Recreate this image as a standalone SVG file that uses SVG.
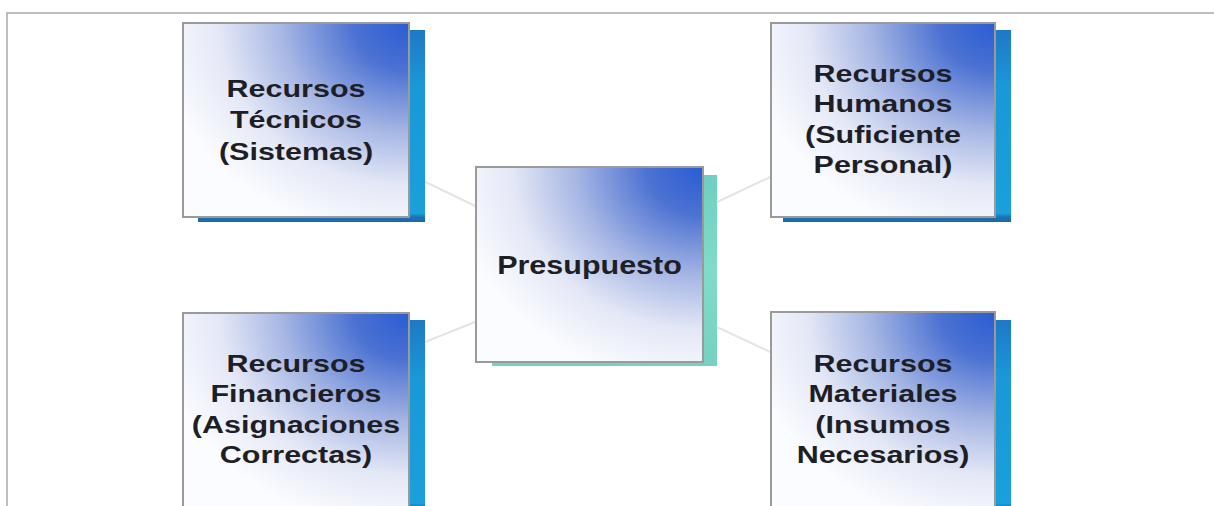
<svg xmlns="http://www.w3.org/2000/svg" width="1214" height="506" viewBox="0 0 1214 506">
  <style>
    .box { stroke: #9a9a9a; stroke-width: 2; }
    .lbl { font-family: "Liberation Sans", Arial, sans-serif; font-weight: bold; font-size: 24px; fill: #1e1e26; text-anchor: middle; }
    .conn { stroke: #e4e4e4; stroke-width: 2; fill: none; }
    .frame { stroke: #bdbdbd; stroke-width: 2; fill: none; }
  </style>
  <defs>
    <radialGradient id="boxFill" cx="1" cy="0" r="1.12" fx="1" fy="0">
      <stop offset="0" stop-color="#2a5cd4"/>
      <stop offset="0.22" stop-color="#4c72d2"/>
      <stop offset="0.5" stop-color="#a6b6e4"/>
      <stop offset="0.75" stop-color="#e4e8f6"/>
      <stop offset="1" stop-color="#fbfcff"/>
    </radialGradient>
    <linearGradient id="shadowBlue" x1="0" y1="0" x2="0" y2="1">
      <stop offset="0" stop-color="#1f78c6"/>
      <stop offset="0.3" stop-color="#1a98d8"/>
      <stop offset="0.955" stop-color="#1aa0dc"/>
      <stop offset="0.975" stop-color="#1c72b4"/>
      <stop offset="1" stop-color="#1c68a8"/>
    </linearGradient>
    <linearGradient id="shadowTeal" x1="0" y1="0" x2="0" y2="1">
      <stop offset="0" stop-color="#6fcfc0"/>
      <stop offset="0.5" stop-color="#80dcc8"/>
      <stop offset="1" stop-color="#76d2c0"/>
    </linearGradient>
  </defs>

  <rect x="0" y="0" width="1214" height="506" fill="#ffffff"/>
  <path class="frame" d="M7 506 V13 H1214"/>

  <g id="connectors">
    <line class="conn" x1="380" y1="160" x2="500" y2="218"/>
    <line class="conn" x1="700" y1="210" x2="800" y2="163"/>
    <line class="conn" x1="400" y1="352" x2="500" y2="312"/>
    <line class="conn" x1="700" y1="319" x2="800" y2="366"/>
  </g>

  <g id="node-tecnicos">
    <rect x="198" y="30" width="227" height="192" fill="url(#shadowBlue)"/>
    <rect class="box" x="183" y="23" width="226" height="194" fill="url(#boxFill)"/>
    <g transform="translate(296 0) scale(1.27 1)">
      <text class="lbl" x="0" y="97">Recursos</text>
      <text class="lbl" x="0" y="128.5">Técnicos</text>
      <text class="lbl" x="0" y="160">(Sistemas)</text>
    </g>
  </g>

  <g id="node-humanos">
    <rect x="783" y="30" width="228" height="192" fill="url(#shadowBlue)"/>
    <rect class="box" x="771" y="23" width="224" height="194" fill="url(#boxFill)"/>
    <g transform="translate(883 0) scale(1.27 1)">
      <text class="lbl" x="0" y="82">Recursos</text>
      <text class="lbl" x="0" y="112.5">Humanos</text>
      <text class="lbl" x="0" y="143">(Suficiente</text>
      <text class="lbl" x="0" y="173.5">Personal)</text>
    </g>
  </g>

  <g id="node-financieros">
    <rect x="198" y="320" width="227" height="192" fill="url(#shadowBlue)"/>
    <rect class="box" x="183" y="313" width="226" height="194" fill="url(#boxFill)"/>
    <g transform="translate(296 0) scale(1.27 1)">
      <text class="lbl" x="0" y="372">Recursos</text>
      <text class="lbl" x="0" y="402.5">Financieros</text>
      <text class="lbl" x="0" y="433">(Asignaciones</text>
      <text class="lbl" x="0" y="463.5">Correctas)</text>
    </g>
  </g>

  <g id="node-materiales">
    <rect x="783" y="320" width="228" height="192" fill="url(#shadowBlue)"/>
    <rect class="box" x="771" y="312" width="224" height="195" fill="url(#boxFill)"/>
    <g transform="translate(883 0) scale(1.27 1)">
      <text class="lbl" x="0" y="372">Recursos</text>
      <text class="lbl" x="0" y="402.5">Materiales</text>
      <text class="lbl" x="0" y="433">(Insumos</text>
      <text class="lbl" x="0" y="463.5">Necesarios)</text>
    </g>
  </g>

  <g id="node-presupuesto">
    <rect x="492" y="175" width="225" height="191" fill="url(#shadowTeal)"/>
    <rect class="box" x="476" y="167" width="227" height="195" fill="url(#boxFill)"/>
    <g transform="translate(589.5 0) scale(1.22 1)">
      <text class="lbl" x="0" y="274" style="font-size:25px">Presupuesto</text>
    </g>
  </g>
</svg>
